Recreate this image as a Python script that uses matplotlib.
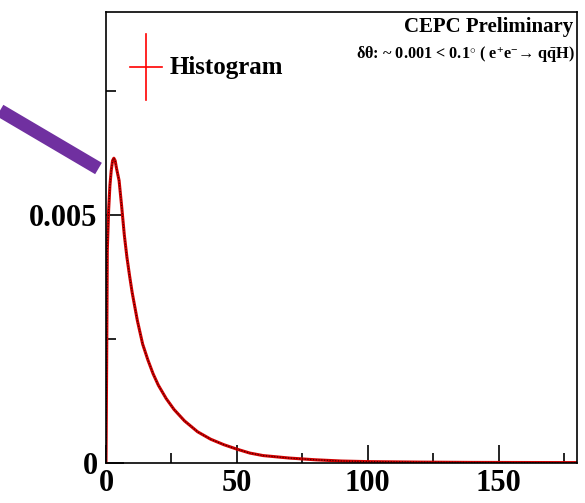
import numpy as np
import matplotlib
matplotlib.use("Agg")
import matplotlib.pyplot as plt
from matplotlib.lines import Line2D
from matplotlib.ticker import MultipleLocator

plt.rcParams["font.family"] = ["Liberation Serif", "DejaVu Serif"]
plt.rcParams["font.weight"] = "bold"
plt.rcParams["mathtext.fontset"] = "custom"
plt.rcParams["mathtext.rm"] = "Liberation Serif:bold"
plt.rcParams["mathtext.it"] = "Liberation Serif:bold"
plt.rcParams["mathtext.bf"] = "Liberation Serif:bold"

# delta theta distribution (deg)
dtheta = [0, 0.25, 0.5, 1, 1.5, 2, 2.5, 3, 3.5, 4, 5, 6, 7, 8, 9, 10, 12, 14,
          16, 18, 20, 23, 26, 30, 35, 40, 45, 50, 55, 60, 70, 80, 90, 100,
          120, 140, 160, 180]
density = [0.0, 2.0, 4.3, 5.1, 5.6, 5.9, 6.1, 6.15, 6.1, 5.95, 5.7, 5.17,
           4.6, 4.15, 3.78, 3.44, 2.87, 2.4, 2.08, 1.8, 1.57, 1.3, 1.08,
           0.85, 0.63, 0.48, 0.37, 0.28, 0.2, 0.15, 0.1, 0.065, 0.04, 0.028,
           0.018, 0.012, 0.01, 0.008]
density = [v * 1e-3 for v in density]

x_ticks = [0, 50, 100, 150]
y_ticks = [0, 0.005]
y_tick_labels = ["0", "0.005"]

fig = plt.figure(figsize=(5.85, 5.03), dpi=100)
ax = fig.add_axes([106 / 585, 40 / 503, 471 / 585, 451 / 503])

ax.plot(dtheta, density, color="#d00000", lw=2.2, solid_joinstyle="round")
ax.plot(dtheta, density, color="black", lw=0.8, ls=(0, (1, 1.5)), alpha=0.75)

ax.set_xlim(0, 180)
ax.set_ylim(0, 0.0091)
ax.set_xticks(x_ticks)
ax.set_xticklabels([str(t) for t in x_ticks])
ax.set_yticks(y_ticks)
ax.set_yticklabels(y_tick_labels)
ax.xaxis.set_minor_locator(MultipleLocator(25))
ax.yaxis.set_minor_locator(MultipleLocator(0.0025))
ax.tick_params(which="both", direction="in", top=False, right=False,
               labelsize=22, width=1.2)
ax.tick_params(which="major", length=13, pad=4)
ax.tick_params(which="minor", length=7)
ax.tick_params(axis="y", pad=6)
for s in ax.spines.values():
    s.set_linewidth(1.2)
for lab in ax.get_xticklabels() + ax.get_yticklabels():
    lab.set_fontweight("bold")

# legend drawn by hand (ROOT style cross)
ax.plot([0.051, 0.119], [0.878, 0.878], color="red", lw=1.2,
        transform=ax.transAxes)
ax.plot([0.085, 0.085], [0.805, 0.951], color="red", lw=1.2,
        transform=ax.transAxes)
ax.text(0.136, 0.876, "Histogram", transform=ax.transAxes, fontsize=18,
        fontweight="bold", va="center", ha="left")

ax.text(0.992, 0.966, "CEPC Preliminary", transform=ax.transAxes,
        fontsize=15, fontweight="bold", ha="right", va="center")
ax.text(0.995, 0.905,
        r"δθ: ~ 0.001 < 0.1$^{\circ}$ ( e$^{+}$e$^{-}$→ q$\bar{\mathrm{q}}$H)",
        transform=ax.transAxes, fontsize=11.7, fontweight="bold",
        ha="right", va="center")

# purple pointer coming in from the left
fig.add_artist(Line2D([0, 98.5 / 585], [1 - 110.5 / 503, 1 - 168.5 / 503],
                      color="#7030a0", lw=9.5, solid_capstyle="butt",
                      transform=fig.transFigure))

fig.savefig("out.png", dpi=100)
